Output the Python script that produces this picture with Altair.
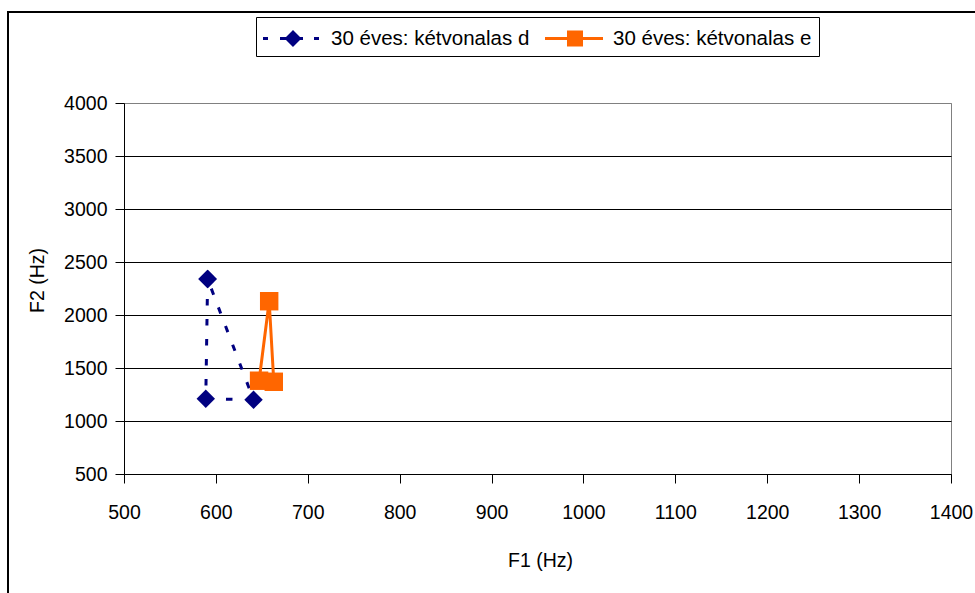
import altair as alt
import pandas as pd

# F1/F2 formant values (Hz) for the two vowel series
series_d = "30 éves: kétvonalas d"
series_e = "30 éves: kétvonalas e"
d_f1 = [591, 589, 641, 591]
d_f2 = [2340, 1210, 1200, 2340]
e_f1 = [647, 658, 663]
e_f2 = [1380, 2130, 1370]

x_ticks = list(range(500, 1401, 100))
y_ticks = list(range(500, 4001, 500))

colors = ["#000080", "#FF6600"]
FONT = "Liberation Sans"
FS = 19.5

df_d = pd.DataFrame({"F1": d_f1, "F2": d_f2, "series": series_d, "marker": "diamond", "order": range(len(d_f1))})
df_e = pd.DataFrame({"F1": e_f1, "F2": e_f2, "series": series_e, "marker": "square", "order": range(len(e_f1))})
df = pd.concat([df_d, df_e], ignore_index=True)

# plot area geometry (pixels)
W, H = 827, 371
PAD_L, PAD_T = 124, 103

# ---- legend key glyphs: a line segment with the series marker on it ----
R = 14.5  # half side of the legend symbol box -> symbolSize = (2R)^2


def u(v):
    return round((v - R) / R, 3)


def uy(v):
    return round(v / R, 3)


def rect_path(x0, x1, h):
    return f"M{u(x0)},{uy(-h)}H{u(x1)}V{uy(h)}H{u(x0)}Z"


def diamond_path(cx, r):
    return f"M{u(cx - r)},0L{u(cx)},{uy(-r)}L{u(cx + r)},0L{u(cx)},{uy(r)}Z"


def square_path(cx, r):
    return f"M{u(cx - r)},{uy(-r)}H{u(cx + r)}V{uy(r)}H{u(cx - r)}Z"


key_d = "".join(rect_path(a, b, 1.6) for a, b in [(0, 5), (17, 23), (34, 40), (51, 56)]) + diamond_path(30, 8.5)
key_e = rect_path(0, 58, 1.6) + square_path(30, 8)
symbol_expr = f"datum.value == '{series_d}' ? '{key_d}' : '{key_e}'"

x_scale = alt.Scale(domain=[500, 1400], nice=False, zero=False)
y_scale = alt.Scale(domain=[500, 4000], nice=False, zero=False)

x_axis = alt.Axis(
    values=x_ticks, format="d", grid=False, tickSize=9, tickColor="black",
    domainColor="black", labelFont=FONT, labelFontSize=FS, labelColor="black",
    labelPadding=20, labelFlush=False, labelOverlap=False,
    title="F1 (Hz)", titleFont=FONT, titleFontSize=FS, titleFontWeight="normal",
    titleColor="black", titleX=416, titleY=86, titleBaseline="middle",
)
y_axis = alt.Axis(
    values=y_ticks, format="d", grid=True, tickSize=9, tickColor="black",
    gridColor={"condition": {"test": "datum.value >= 4000", "value": "#808080"}, "value": "black"},
    domainColor="black", labelFont=FONT, labelFontSize=FS, labelColor="black",
    labelPadding=8, labelFlush=False, labelOverlap=False,
    title="F2 (Hz)", titleFont=FONT, titleFontSize=FS, titleFontWeight="normal",
    titleColor="black", titleX=-87, titleY=177, titleBaseline="middle", titleAngle=270,
)

base = alt.Chart(df)

# outer chart frame
frame = alt.Chart(pd.DataFrame({"k": [0]})).mark_rect(
    fill="transparent", stroke="black", strokeWidth=2
).encode(
    x=alt.value(8 - PAD_L), y=alt.value(12 - PAD_T),
    x2=alt.value(W + 200), y2=alt.value(H + 300),
)

line_d = base.transform_filter(alt.datum.series == series_d).mark_line(
    color=colors[0], strokeWidth=3, strokeDash=[6.5, 13.5]
).encode(
    x=alt.X("F1:Q", scale=x_scale, axis=x_axis),
    y=alt.Y("F2:Q", scale=y_scale, axis=y_axis),
    order="order:Q",
)
line_e = base.transform_filter(alt.datum.series == series_e).mark_line(
    color=colors[1], strokeWidth=3
).encode(
    x=alt.X("F1:Q", scale=x_scale),
    y=alt.Y("F2:Q", scale=y_scale),
    order="order:Q",
)

points = base.mark_point(filled=True, opacity=1, size=340).encode(
    x=alt.X("F1:Q", scale=x_scale),
    y=alt.Y("F2:Q", scale=y_scale),
    shape=alt.Shape("marker:N", scale=None, legend=None),
    color=alt.Color(
        "series:N",
        scale=alt.Scale(domain=[series_d, series_e], range=colors),
        legend=alt.Legend(
            title=None, orient="none", legendX=132, legendY=-86, direction="horizontal",
            symbolType=alt.ExprRef(symbol_expr), symbolSize=(2 * R) ** 2,
            symbolStrokeWidth=0, symbolOpacity=1,
            labelFont=FONT, labelFontSize=20.5, labelColor="black", labelLimit=400,
            labelOffset=39, columnPadding=15, padding=7,
            strokeColor="black", fillColor="white",
        ),
    ),
)

chart = alt.layer(frame, line_d, line_e, points).properties(
    width=W, height=H,
    autosize=alt.AutoSizeParams(type="none"),
    padding={"left": PAD_L, "top": PAD_T, "right": 975 - PAD_L - W, "bottom": 593 - PAD_T - H},
    background="white",
).configure_view(stroke="#808080", strokeWidth=1)

chart.save("out.html", embed_options={"renderer": "svg", "actions": False})
